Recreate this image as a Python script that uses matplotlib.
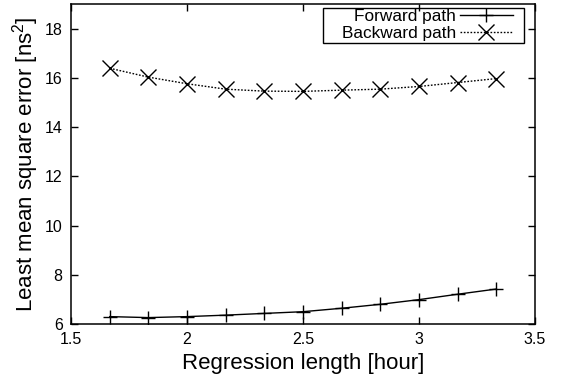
import matplotlib
matplotlib.use("Agg")
import matplotlib.pyplot as plt
from matplotlib.patches import Rectangle

# Regression length in hours
regression_hours = [1.667, 1.833, 2.0, 2.167, 2.333, 2.5, 2.667, 2.833, 3.0, 3.167, 3.333]
# Least mean square error [ns^2]
forward_lmse = [6.30, 6.26, 6.30, 6.36, 6.43, 6.50, 6.64, 6.80, 6.99, 7.21, 7.42]
backward_lmse = [16.39, 16.03, 15.76, 15.54, 15.46, 15.45, 15.50, 15.54, 15.65, 15.81, 15.97]

x_ticks = [1.5, 2, 2.5, 3, 3.5]
x_tick_labels = ["1.5", "2", "2.5", "3", "3.5"]
y_ticks = [6, 8, 10, 12, 14, 16, 18]

plt.rcParams["font.family"] = ["Liberation Sans", "DejaVu Sans"]
plt.rcParams["mathtext.fontset"] = "custom"
plt.rcParams["mathtext.rm"] = "Liberation Sans"

fig = plt.figure(figsize=(5.61, 3.78), dpi=100)
ax = fig.add_axes([71 / 561, 1 - 324 / 378, (535 - 71) / 561, (324 - 4) / 378])

ax.plot(regression_hours, forward_lmse, color="black", linestyle="-", linewidth=1.0,
        marker="+", markersize=10.5, markeredgewidth=1.0, label="Forward path")
ax.plot(regression_hours, backward_lmse, color="black", linestyle=(0, (1.2, 1.2)), linewidth=1.0,
        marker="x", markersize=11, markeredgewidth=1.0, label="Backward path")

ax.set_xlim(1.5, 3.5)
ax.set_ylim(6, 19)
ax.set_xticks(x_ticks)
ax.set_xticklabels(x_tick_labels)
ax.set_yticks(y_ticks)
ax.tick_params(direction="in", top=True, right=True, length=5, width=1.0,
               labelsize=11.5, pad=6)
for s in ax.spines.values():
    s.set_linewidth(1.1)

ax.set_xlabel("Regression length [hour]", fontsize=16, labelpad=4)
ax.set_ylabel("Least mean square error [ns$^2$]", fontsize=16, labelpad=3)

# key: samples to the right of right-aligned labels, inside a plain box
leg = ax.legend(loc="upper right", bbox_to_anchor=(0.9526, 0.984), markerfirst=False,
                fontsize=12.4, frameon=False,
                handlelength=3.1, handletextpad=0.2, borderpad=0.0,
                labelspacing=0.12, borderaxespad=0.0)
for t in leg.get_texts():
    t.set_ha("right")
ax.add_patch(Rectangle((0.543, 0.878), 0.976 - 0.543, 0.9875 - 0.878,
                       transform=ax.transAxes, fill=False, edgecolor="black",
                       linewidth=1.0, zorder=5))

fig.savefig("out.png", dpi=100)
